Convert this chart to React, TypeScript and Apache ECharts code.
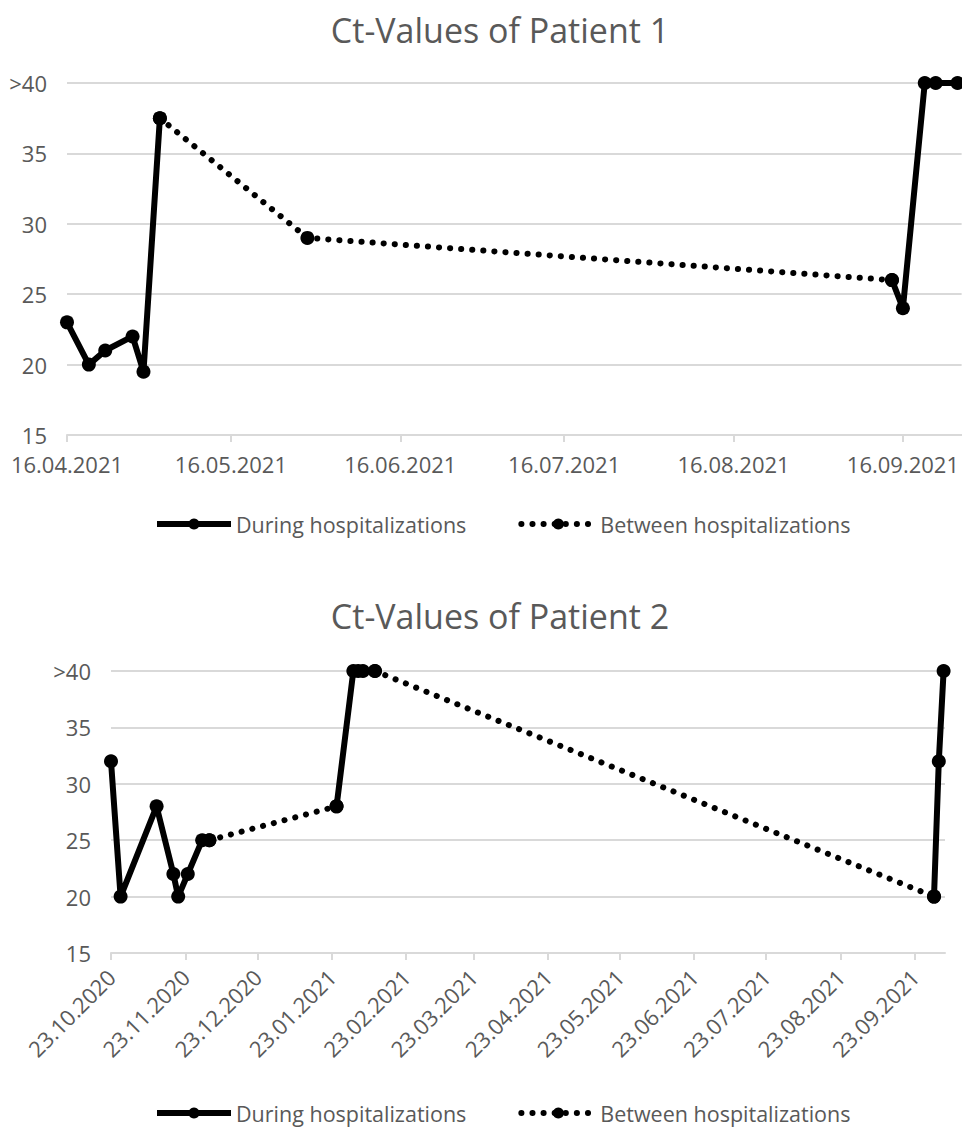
import React, { useEffect, useRef } from 'react';
import * as echarts from 'echarts';

// ---------- Data ----------
const seriesNames = ['During hospitalizations', 'Between hospitalizations'];

// Patient 1
const p1DuringFirstDates = ['16.04.2021', '20.04.2021', '23.04.2021', '28.04.2021', '30.04.2021', '03.05.2021'];
const p1DuringFirstValues = [23, 20, 21, 22, 19.5, 37.5];
const p1BetweenDates = ['03.05.2021', '30.05.2021', '14.09.2021'];
const p1BetweenValues = [37.5, 29, 26];
const p1DuringSecondDates = ['14.09.2021', '16.09.2021', '20.09.2021', '22.09.2021', '26.09.2021'];
const p1DuringSecondValues = [26, 24, 40, 40, 40];
const p1TickLabels = ['16.04.2021', '16.05.2021', '16.06.2021', '16.07.2021', '16.08.2021', '16.09.2021'];
const p1AxisRange = ['16.04.2021', '26.09.2021 18'];

// Patient 2
const p2DuringFirstDates = ['23.10.2020', '27.10.2020', '11.11.2020', '18.11.2020', '20.11.2020', '24.11.2020', '30.11.2020', '03.12.2020'];
const p2DuringFirstValues = [32, 20, 28, 22, 20, 22, 25, 25];
const p2BetweenFirstDates = ['03.12.2020', '25.01.2021'];
const p2BetweenFirstValues = [25, 28];
const p2DuringSecondDates = ['25.01.2021', '01.02.2021', '03.02.2021', '05.02.2021', '10.02.2021'];
const p2DuringSecondValues = [28, 40, 40, 40, 40];
const p2BetweenSecondDates = ['10.02.2021', '01.10.2021'];
const p2BetweenSecondValues = [40, 20];
const p2DuringThirdDates = ['01.10.2021', '03.10.2021', '05.10.2021'];
const p2DuringThirdValues = [20, 32, 40];
const p2TickLabels = [
  '23.10.2020', '23.11.2020', '23.12.2020', '23.01.2021', '23.02.2021', '23.03.2021',
  '23.04.2021', '23.05.2021', '23.06.2021', '23.07.2021', '23.08.2021', '23.09.2021',
];
const p2AxisRange = ['23.10.2020', '05.10.2021 14'];

const yTicks = { min: 15, max: 40, interval: 5 };

// ---------- Helpers ----------
function parseDMY(s: string): number {
  const [datePart, hourPart] = s.split(' ');
  const [d, m, y] = datePart.split('.').map(Number);
  return new Date(y, m - 1, d, hourPart ? Number(hourPart) : 0).getTime();
}
function pad(n: number) {
  return n < 10 ? '0' + n : '' + n;
}
function fmt(v: number) {
  const dt = new Date(v);
  return pad(dt.getDate()) + '.' + pad(dt.getMonth() + 1) + '.' + dt.getFullYear();
}
function pairs(dates: string[], values: number[]) {
  return dates.map((d, i) => [parseDMY(d), values[i]]);
}

const FONT = '"Open Sans", sans-serif';
const TEXT = '#595959';
const GRIDC = '#d9d9d9';
const DOTS = [0.1, 11];

function duringSeries(idx: number, data: any[]) {
  return {
    type: 'line',
    name: seriesNames[0],
    xAxisIndex: idx,
    yAxisIndex: idx,
    data,
    symbol: 'circle',
    symbolSize: 14,
    showAllSymbol: true,
    lineStyle: { color: '#000', width: 6, type: 'solid' },
    itemStyle: { color: '#000' },
    z: 3,
  };
}
function betweenSeries(idx: number, data: any[]) {
  return {
    type: 'line',
    name: seriesNames[1],
    xAxisIndex: idx,
    yAxisIndex: idx,
    data,
    symbol: 'circle',
    symbolSize: 14,
    showAllSymbol: true,
    lineStyle: { color: '#000', width: 6, type: DOTS, cap: 'round' },
    itemStyle: { color: '#000' },
    z: 2,
  };
}

function xAxis(idx: number, range: string[], ticks: string[], rotate: number) {
  const vals = ticks.map(parseDMY);
  return {
    type: 'value',
    gridIndex: idx,
    min: parseDMY(range[0]),
    max: parseDMY(range[1]),
    axisLine: { show: true, onZero: false, lineStyle: { color: GRIDC, width: 2 } },
    axisTick: { show: true, customValues: vals, length: 7, lineStyle: { color: GRIDC, width: 2 } },
    axisLabel: {
      customValues: vals,
      formatter: (v: number) => fmt(v),
      color: TEXT,
      fontFamily: FONT,
      fontSize: 22,
      rotate,
      margin: rotate ? 20 : 18,
      hideOverlap: false,
    },
    splitLine: { show: false },
  };
}
function yAxis(idx: number) {
  return {
    type: 'value',
    gridIndex: idx,
    min: yTicks.min,
    max: yTicks.max,
    interval: yTicks.interval,
    axisLine: { show: false },
    axisTick: { show: false },
    axisLabel: {
      color: TEXT,
      fontFamily: FONT,
      fontSize: 22,
      margin: 20,
      formatter: (v: number) => (v === 40 ? '>40' : String(v)),
    },
    splitLine: { show: true, lineStyle: { color: GRIDC, width: 2 } },
  };
}

export default function App() {
  const ref = useRef<HTMLDivElement>(null);
  useEffect(() => {
    if (!ref.current) return;
    const chart = echarts.init(ref.current, undefined, { renderer: 'svg' });
    const legendBase = {
      data: seriesNames,
      itemWidth: 74,
      itemHeight: 14,
      itemGap: 52,
      lineStyle: { width: 6 },
      textStyle: { color: TEXT, fontFamily: FONT, fontSize: 21.5 },
    };
    const titleStyle = { color: TEXT, fontFamily: FONT, fontSize: 34, fontWeight: 'normal' };
    chart.setOption({
      animation: false,
      backgroundColor: '#fff',
      title: [
        { text: 'Ct-Values of Patient 1', left: 495, top: 8, textAlign: 'center', textStyle: titleStyle },
        { text: 'Ct-Values of Patient 2', left: 495, top: 594, textAlign: 'center', textStyle: titleStyle },
      ],
      legend: [
        { ...legendBase, left: 149, top: 508 },
        { ...legendBase, left: 149, top: 1097 },
      ],
      grid: [
        { left: 67, right: 0, top: 83, height: 352, containLabel: false },
        { left: 111, right: 17, top: 671, height: 282, containLabel: false },
      ],
      xAxis: [xAxis(0, p1AxisRange, p1TickLabels, 0), xAxis(1, p2AxisRange, p2TickLabels, 45)],
      yAxis: [yAxis(0), yAxis(1)],
      series: [
        betweenSeries(0, pairs(p1BetweenDates, p1BetweenValues)),
        duringSeries(0, pairs(p1DuringFirstDates, p1DuringFirstValues)),
        duringSeries(0, pairs(p1DuringSecondDates, p1DuringSecondValues)),
        betweenSeries(1, pairs(p2BetweenFirstDates, p2BetweenFirstValues)),
        betweenSeries(1, pairs(p2BetweenSecondDates, p2BetweenSecondValues)),
        duringSeries(1, pairs(p2DuringFirstDates, p2DuringFirstValues)),
        duringSeries(1, pairs(p2DuringSecondDates, p2DuringSecondValues)),
        duringSeries(1, pairs(p2DuringThirdDates, p2DuringThirdValues)),
      ],
    });
    return () => chart.dispose();
  }, []);
  return (
    <div
      ref={ref}
      style={{ position: 'absolute', left: 0, top: 0, width: 962, height: 1127, background: '#fff' }}
    />
  );
}
